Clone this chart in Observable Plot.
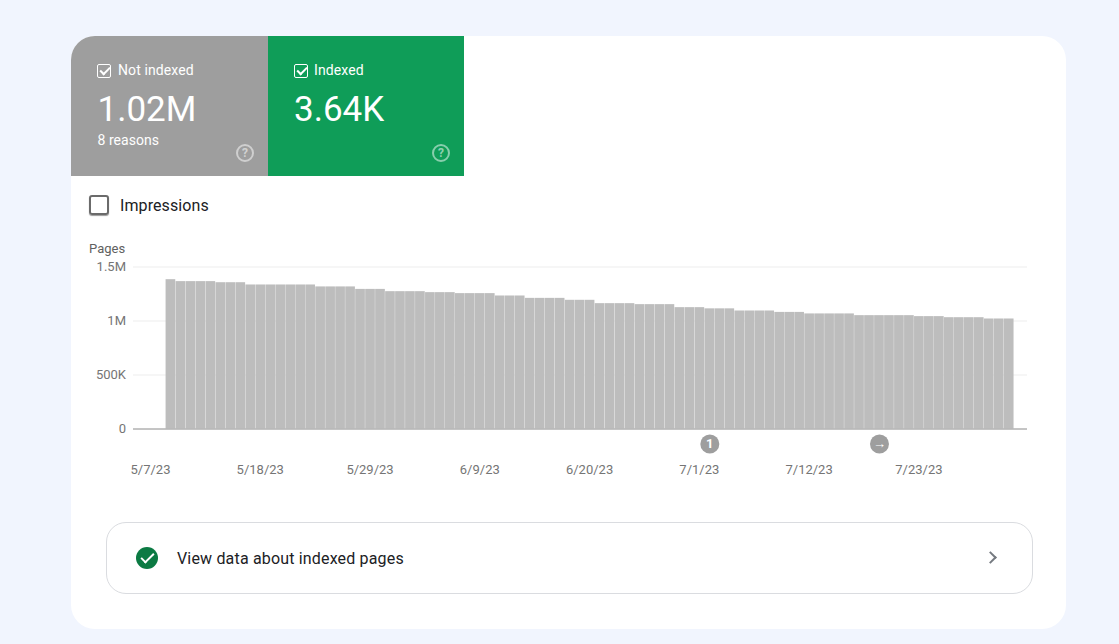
<!DOCTYPE html>
<html>
<head>
<meta charset="utf-8">
<script src="https://cdn.jsdelivr.net/npm/d3@7"></script>
<script src="https://cdn.jsdelivr.net/npm/@observablehq/plot@0.6"></script>
<style>
html,body{margin:0;padding:0;width:1119px;height:644px;overflow:hidden;background:#f1f5fe;font-family:Roboto,sans-serif}
.abs{position:absolute;white-space:nowrap;line-height:1}
#card{position:absolute;left:71px;top:36px;width:995px;height:593px;background:#fff;border-radius:24px}
.tile{position:absolute;top:36px;height:140px}
#t1{left:71px;width:197px;background:#9e9e9e;border-top-left-radius:24px}
#t2{left:268px;width:196px;background:#0f9d58}
.box{position:absolute;width:12px;height:12px;border:1px solid #fff;border-radius:2px;top:64px}
.box i{position:absolute;left:2px;top:1.5px;width:7.5px;height:3.5px;border-left:2px solid #fff;border-bottom:2px solid #fff;transform:rotate(-45deg)}
.help{position:absolute;top:144px;width:14px;height:14px;border:2px solid rgba(255,255,255,.5);border-radius:50%;color:rgba(255,255,255,.55);font:700 12px/14px Roboto,sans-serif;text-align:center}
.w{color:#fff}
#plot{position:absolute;left:0;top:236px}
#plot svg{display:block;overflow:visible}
#imp{position:absolute;left:89px;top:195px;width:16px;height:16px;border:2px solid #6b6b6b;border-radius:3px;box-shadow:0 1px 1px #999}
#btn{position:absolute;left:106px;top:522px;width:925px;height:70px;border:1px solid #dadce0;border-radius:20px}
#ok{position:absolute;left:136px;top:547px;width:22px;height:22px;border-radius:50%;background:#0b7a43}
#ok i{position:absolute;left:5px;top:5.5px;width:11px;height:5px;border-left:2.4px solid #fff;border-bottom:2.4px solid #fff;transform:rotate(-45deg)}
#chev{position:absolute;left:986px;top:553px;width:7px;height:7px;border-top:2px solid #757a80;border-right:2px solid #757a80;transform:rotate(45deg)}
</style>
</head>
<body>
<div id="card"></div>
<div class="tile" id="t1"></div>
<div class="tile" id="t2"></div>
<div class="box" style="left:97px"><i></i></div>
<div class="box" style="left:294px"><i></i></div>
<div class="abs w" style="left:118px;top:63px;font-size:14px;letter-spacing:.1px">Not indexed</div>
<div class="abs w" style="left:314px;top:63px;font-size:14px;letter-spacing:.1px">Indexed</div>
<div class="abs w" style="left:97.5px;top:92px;font-size:35px">1.02M</div>
<div class="abs w" style="left:294px;top:92px;font-size:35px">3.64K</div>
<div class="abs w" style="left:97.5px;top:133px;font-size:14px;letter-spacing:.05px">8 reasons</div>
<div class="help" style="left:236px">?</div>
<div class="help" style="left:432px">?</div>
<div id="imp"></div>
<div class="abs" style="left:120px;top:198px;font-size:16px;letter-spacing:.1px;color:#202124">Impressions</div>
<div id="plot"></div>
<div id="btn"></div>
<div id="ok"><i></i></div>
<div class="abs" style="left:177px;top:551px;font-size:16px;letter-spacing:.17px;color:#202124">View data about indexed pages</div>
<div id="chev"></div>
<script>
// Pages not indexed, one value per day starting 2023-05-08
const firstDay = "2023-05-08";
const pages = [
  1384000,
  1366000,1366000,1366000,1366000,
  1356000,1356000,1356000,
  1335000,1335000,1335000,1335000,1335000,1335000,1335000,
  1317000,1317000,1317000,1317000,
  1294000,1294000,1294000,
  1273000,1273000,1273000,1273000,
  1264000,1264000,1264000,
  1255000,1255000,1255000,1255000,
  1233000,1233000,1233000,
  1211000,1211000,1211000,1211000,
  1193000,1193000,1193000,
  1162000,1162000,1162000,1162000,
  1153000,1153000,1153000,1153000,
  1125000,1125000,1125000,
  1114000,1114000,1114000,
  1094000,1094000,1094000,1094000,
  1081000,1081000,1081000,
  1067000,1067000,1067000,1067000,1067000,
  1051000,1051000,1051000,1051000,1051000,1051000,
  1042000,1042000,1042000,
  1032000,1032000,1032000,1032000,
  1020000,1020000,1020000
];
const xTickDates = ["2023-05-07","2023-05-18","2023-05-29","2023-06-09","2023-06-20","2023-07-01","2023-07-12","2023-07-23"];
const yTicks = [0,500000,1000000,1500000];
const yTickLabels = ["0","500K","1M","1.5M"];
const annotationDates = ["2023-07-01","2023-07-18"];
const annotationLabels = ["1","→"];

const start = new Date(firstDay + "T00:00Z");
const bars = pages.map((v,i)=>({date:d3.utcDay.offset(start,i),value:v}));
const notes = annotationDates.map((d,i)=>({date:new Date(d+"T12:00Z"),label:annotationLabels[i]}));
const fmt = d3.utcFormat("%-m/%-d/%y");

const chart = Plot.plot({
  width:1119,height:249,
  marginLeft:133,marginRight:92,marginTop:30.5,marginBottom:56.5,
  style:{fontFamily:"Roboto, sans-serif",fontSize:"13px",color:"#757575",background:"transparent",overflow:"visible"},
  x:{type:"utc",domain:[new Date("2023-05-04T18:00Z"),new Date("2023-08-02T08:00Z")]},
  y:{domain:[0,1500000]},
  marks:[
    Plot.ruleY(yTicks.slice(1),{stroke:"#ededed",strokeWidth:1}),
    Plot.rectY(bars,{x:"date",y:"value",interval:"day",fill:"#bdbdbd",inset:0.15}),
    Plot.ruleY([0],{stroke:"#8a8a8a",strokeWidth:1}),
    Plot.axisY({ticks:yTicks,tickFormat:v=>yTickLabels[yTicks.indexOf(v)],tickSize:0,tickPadding:7.5,label:null,fill:"#757575"}),
    Plot.text(["Pages"],{frameAnchor:"top-left",dx:-44.5,dy:-18,textAnchor:"start",lineAnchor:"middle",fill:"#616161",fontSize:13}),
    Plot.axisX({ticks:xTickDates.map(d=>new Date(d+"T00:00Z")),tickFormat:fmt,tickSize:0,tickPadding:36,dx:-5.5,label:null,fill:"#757575"}),
    Plot.dot(notes,{x:"date",y:()=>0,dy:15,r:9.5,fill:"#9e9e9e"}),
    Plot.text(notes,{x:"date",y:()=>0,dy:15,text:"label",fill:"#fff",fontSize:13,fontWeight:700})
  ]
});
document.getElementById("plot").appendChild(chart);
</script>
</body>
</html>
